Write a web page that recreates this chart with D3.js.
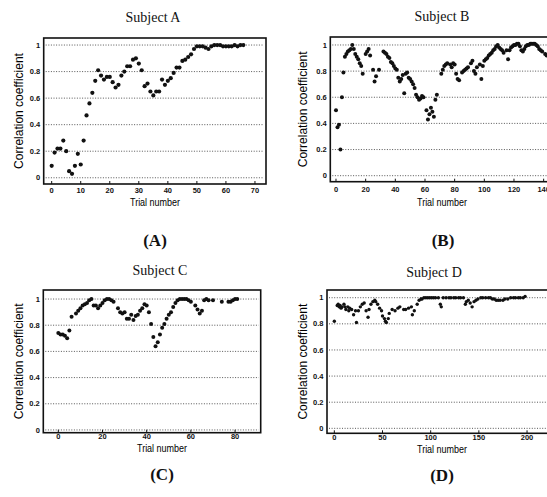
<!DOCTYPE html>
<html>
<head>
<meta charset="utf-8">
<script src="https://cdn.jsdelivr.net/npm/d3@7"></script>
<style>
  html, body { margin: 0; padding: 0; background: #fff; }
  svg { display: block; }
  .title { font-family: "Liberation Serif", "Times New Roman", serif; font-size: 14px; fill: #111; }
  .tag { font-family: "Liberation Serif", "Times New Roman", serif; font-size: 17px; font-weight: bold; fill: #111; }
  .axis-label { font-family: "Liberation Sans", Arial, sans-serif; font-size: 12px; fill: #000; }
  .x-label { font-family: "Liberation Sans", Arial, sans-serif; font-size: 11px; fill: #000; }
  .tick-label { font-family: "Liberation Sans", Arial, sans-serif; font-size: 7.5px; font-weight: bold; fill: #111; }
</style>
</head>
<body>
<div id="chart"></div>
<script>
// Data: [trial number, correlation coefficient]
const subjectA = [
  [0,0.09],[1,0.19],[2,0.22],[3,0.22],[4,0.28],[5,0.20],[6,0.05],[7,0.03],[8,0.09],[9,0.18],
  [10,0.10],[11,0.28],[12,0.47],[13,0.56],[14,0.64],[15,0.73],[16,0.81],[17,0.77],[18,0.74],[19,0.76],
  [20,0.76],[21,0.72],[22,0.68],[23,0.70],[24,0.77],[25,0.80],[26,0.84],[27,0.84],[28,0.89],[29,0.90],
  [30,0.86],[31,0.81],[32,0.69],[33,0.71],[34,0.65],[35,0.62],[36,0.65],[37,0.65],[38,0.74],[39,0.70],
  [40,0.73],[41,0.75],[42,0.79],[43,0.83],[44,0.83],[45,0.88],[46,0.89],[47,0.91],[48,0.93],[49,0.97],
  [50,0.99],[51,0.99],[52,0.99],[53,0.98],[54,0.97],[55,0.99],[56,1.0],[57,1.0],[58,1.0],[59,0.99],
  [60,0.99],[61,0.99],[62,0.99],[63,1.0],[64,0.99],[65,1.0],[66,1.0]
];

const subjectB = [
  [0,0.50],[1,0.37],[2,0.39],[3,0.20],[4,0.60],[5,0.79],[6,0.91],[7,0.93],[8,0.95],[9,0.96],
  [10,0.97],[11,1.0],[12,0.97],[13,0.93],[14,0.91],[15,0.89],[16,0.86],[17,0.84],[18,0.78],[20,0.93],
  [21,0.95],[22,0.97],[23,0.92],[25,0.81],[26,0.72],[27,0.76],[29,0.81],[32,0.95],[33,0.94],[34,0.93],
  [35,0.91],[36,0.90],[37,0.87],[38,0.86],[39,0.84],[40,0.82],[41,0.81],[42,0.75],[43,0.72],[44,0.74],
  [45,0.77],[46,0.63],[47,0.78],[48,0.79],[49,0.75],[50,0.74],[51,0.72],[52,0.70],[53,0.67],[54,0.62],
  [55,0.60],[56,0.58],[57,0.59],[58,0.61],[59,0.60],[61,0.50],[62,0.43],[63,0.47],[64,0.52],[65,0.49],
  [66,0.45],[67,0.58],[68,0.62],[71,0.78],[72,0.81],[73,0.84],[74,0.85],[75,0.86],[77,0.85],[78,0.83],
  [79,0.86],[80,0.85],[81,0.78],[82,0.74],[83,0.73],[85,0.79],[86,0.80],[87,0.81],[88,0.82],[89,0.83],
  [91,0.86],[92,0.88],[93,0.80],[94,0.78],[95,0.83],[97,0.85],[98,0.74],[99,0.84],[100,0.88],[101,0.89],
  [102,0.90],[103,0.92],[104,0.93],[105,0.94],[106,0.96],[107,0.97],[108,0.99],[109,1.0],[110,0.98],[111,0.97],
  [112,0.96],[113,0.94],[115,0.96],[116,0.89],[117,0.96],[118,0.98],[119,0.99],[120,1.0],[121,1.0],[122,1.01],
  [123,1.01],[124,0.99],[125,0.96],[126,0.95],[127,0.97],[128,0.99],[129,1.0],[130,1.0],[131,1.01],[132,1.01],
  [133,1.01],[134,1.01],[135,1.0],[136,0.99],[137,0.97],[138,0.96],[139,0.95],[141,0.93],[142,0.92]
];

const subjectC = [
  [0,0.74],[1,0.73],[2,0.73],[3,0.72],[4,0.70],[5,0.76],[6,0.865],[8,0.89],[9,0.91],[10,0.93],
  [11,0.95],[12,0.96],[13,0.97],[14,0.99],[15,1.0],[16,0.95],[17,0.95],[18,0.93],[19,0.95],[20,0.97],
  [21,0.99],[22,1.0],[23,1.0],[24,0.99],[25,0.98],[27,0.93],[28,0.90],[29,0.89],[30,0.90],[31,0.85],
  [32,0.85],[33,0.88],[34,0.84],[35,0.87],[36,0.88],[37,0.91],[38,0.93],[39,0.96],[40,0.95],[41,0.90],
  [42,0.81],[43,0.71],[44,0.64],[45,0.67],[46,0.73],[47,0.78],[48,0.81],[49,0.85],[50,0.88],[51,0.90],
  [52,0.94],[53,0.97],[54,0.99],[55,1.0],[56,1.0],[57,1.0],[58,1.0],[59,0.99],[60,0.98],[62,0.95],
  [63,0.92],[64,0.89],[65,0.91],[66,0.99],[67,1.0],[68,0.99],[70,0.99],[74,0.98],[77,0.98],[78,0.98],
  [79,0.99],[80,1.0],[81,1.0]
];

const subjectD = [
  [0,0.82],[3,0.94],[4,0.95],[5,0.93],[6,0.94],[7,0.92],[8,0.93],[10,0.95],[11,0.93],[12,0.91],
  [14,0.93],[15,0.90],[16,0.92],[18,0.91],[20,0.87],[22,0.90],[23,0.81],[25,0.90],[27,0.93],[29,0.95],
  [31,0.96],[33,0.90],[35,0.85],[36,0.91],[38,0.95],[40,0.97],[42,0.98],[43,0.97],[45,0.95],[47,0.92],
  [49,0.90],[50,0.86],[52,0.84],[53,0.82],[54,0.81],[56,0.84],[57,0.88],[60,0.91],[63,0.90],[66,0.92],
  [68,0.93],[72,0.91],[74,0.91],[77,0.92],[80,0.93],[81,0.87],[83,0.90],[86,0.95],[88,0.98],[90,0.99],
  [91,0.99],[93,1.0],[95,1.0],[97,1.0],[99,1.0],[101,1.0],[103,1.0],[105,1.0],[108,1.0],[110,0.95],
  [111,0.93],[113,1.0],[116,1.0],[119,1.0],[121,1.0],[124,1.0],[126,1.0],[129,1.0],[131,1.0],[134,1.0],
  [136,0.95],[137,0.97],[139,0.98],[141,0.96],[143,0.93],[145,0.97],[147,0.98],[149,0.99],[152,1.0],[154,1.0],
  [157,1.0],[160,1.0],[162,1.0],[164,0.99],[166,0.99],[168,0.98],[170,0.98],[172,0.98],[175,0.98],[177,0.99],
  [180,0.99],[183,1.0],[186,1.0],[188,1.0],[191,1.0],[193,1.0],[196,1.0],[198,1.01]
];

const yTicks = [0, 0.2, 0.4, 0.6, 0.8, 1];
const xTicksA = [0, 10, 20, 30, 40, 50, 60, 70];
const xTicksB = [0, 20, 40, 60, 80, 100, 120, 140];
const xTicksC = [0, 20, 40, 60, 80];
const xTicksD = [0, 50, 100, 150, 200];

const W = 547, H = 497;

// panel layout (frame box, axis domains, text anchors)
const panels = [
  { title: "Subject A", tag: "(A)", data: subjectA, xTicks: xTicksA,
    frame: { l: 43.7, t: 38, r: 266, b: 184 }, xDom: [-2.75, 73.8], yDom: [-0.047, 1.053],
    titleXY: [153, 22], yLabX: 23, xLabXY: [155, 206], tickY: 193, tagXY: [155, 246], r: 2.1 },
  { title: "Subject B", tag: "(B)", data: subjectB, xTicks: xTicksB,
    frame: { l: 330.3, t: 37, r: 565, b: 181.7 }, xDom: [-3.84, 154.4], yDom: [-0.046, 1.061],
    titleXY: [442, 21], yLabX: 307, xLabXY: [442, 206], tickY: 192, tagXY: [443, 246], r: 2.0 },
  { title: "Subject C", tag: "(C)", data: subjectC, xTicks: xTicksC,
    frame: { l: 43.3, t: 290, r: 260.7, b: 432.7 }, xDom: [-6.8, 91.6], yDom: [-0.021, 1.069],
    titleXY: [160, 275], yLabX: 23, xLabXY: [162, 452], tickY: 439, tagXY: [162, 480], r: 2.0 },
  { title: "Subject D", tag: "(D)", data: subjectD, xTicks: xTicksD,
    frame: { l: 327, t: 290, r: 565, b: 433.3 }, xDom: [-7.6, 239.4], yDom: [-0.038, 1.059],
    titleXY: [434, 277], yLabX: 307, xLabXY: [442, 452.5], tickY: 440, tagXY: [442, 481], r: 1.7 }
];

const svg = d3.select("#chart").append("svg")
  .attr("width", W)
  .attr("height", H);

function drawPanel(p) {
  const f = p.frame;
  const g = svg.append("g");

  const x = d3.scaleLinear().domain(p.xDom).range([f.l, f.r]);
  const y = d3.scaleLinear().domain(p.yDom).range([f.b, f.t]);

  // dotted gridlines at each y tick
  g.selectAll(".grid")
    .data(yTicks)
    .enter()
    .append("line")
    .attr("x1", f.l + 2)
    .attr("x2", f.r - 2)
    .attr("y1", d => y(d))
    .attr("y2", d => y(d))
    .attr("stroke", "#444")
    .attr("stroke-width", 0.9)
    .attr("stroke-dasharray", "1,1.6");

  // y tick labels
  g.selectAll(".ytl")
    .data(yTicks)
    .enter()
    .append("text")
    .attr("class", "tick-label")
    .attr("x", f.l - 3.5)
    .attr("y", d => y(d) + 2.6)
    .attr("text-anchor", "end")
    .text(d => d3.format("~g")(d));

  // x ticks (inside) and labels
  g.selectAll(".xt")
    .data(p.xTicks)
    .enter()
    .append("line")
    .attr("x1", d => x(d))
    .attr("x2", d => x(d))
    .attr("y1", f.b)
    .attr("y2", f.b - 3)
    .attr("stroke", "#111")
    .attr("stroke-width", 1);

  g.selectAll(".xtl")
    .data(p.xTicks)
    .enter()
    .append("text")
    .attr("class", "tick-label")
    .attr("x", d => x(d))
    .attr("y", p.tickY)
    .attr("text-anchor", "middle")
    .text(d => d);

  // points
  g.selectAll("circle")
    .data(p.data)
    .enter()
    .append("circle")
    .attr("cx", d => x(d[0]))
    .attr("cy", d => y(d[1]))
    .attr("r", p.r)
    .attr("fill", "#111");

  // frame
  g.append("rect")
    .attr("x", f.l)
    .attr("y", f.t)
    .attr("width", f.r - f.l)
    .attr("height", f.b - f.t)
    .attr("fill", "none")
    .attr("stroke", "#111")
    .attr("stroke-width", 1.6);

  // texts
  g.append("text")
    .attr("class", "title")
    .attr("x", p.titleXY[0])
    .attr("y", p.titleXY[1])
    .attr("text-anchor", "middle")
    .text(p.title);

  g.append("text")
    .attr("class", "axis-label")
    .attr("transform", `translate(${p.yLabX},${(f.t + f.b) / 2}) rotate(-90)`)
    .attr("text-anchor", "middle")
    .text("Correlation coefficient");

  g.append("text")
    .attr("class", "x-label")
    .attr("x", p.xLabXY[0])
    .attr("y", p.xLabXY[1])
    .attr("text-anchor", "middle")
    .attr("textLength", 50)
    .attr("lengthAdjust", "spacingAndGlyphs")
    .text("Trial number");

  g.append("text")
    .attr("class", "tag")
    .attr("x", p.tagXY[0])
    .attr("y", p.tagXY[1])
    .attr("text-anchor", "middle")
    .text(p.tag);
}

panels.forEach(drawPanel);
</script>
</body>
</html>
